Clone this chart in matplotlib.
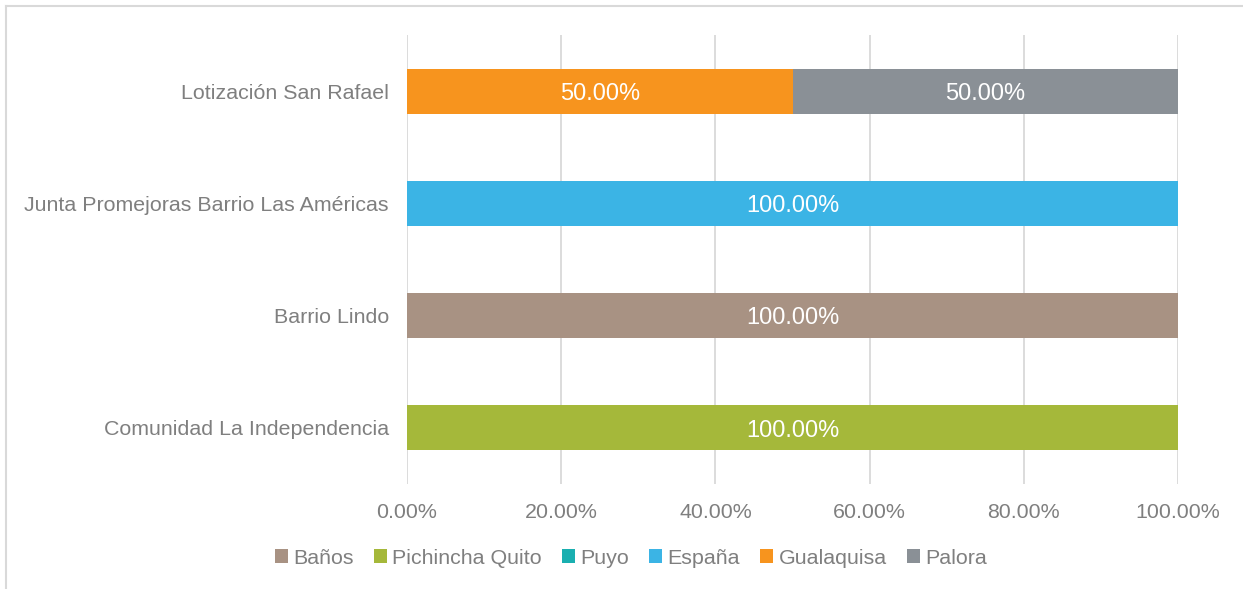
import matplotlib
matplotlib.use("Agg")
import matplotlib.pyplot as plt
from matplotlib.lines import Line2D
from matplotlib.patches import Patch

categories = ["Comunidad La Independencia", "Barrio Lindo",
              "Junta Promejoras Barrio Las Américas", "Lotización San Rafael"]
series_names = ["Baños", "Pichincha Quito", "Puyo", "España", "Gualaquisa", "Palora"]
banos = [0.0, 1.0, 0.0, 0.0]
pichincha_quito = [1.0, 0.0, 0.0, 0.0]
puyo = [0.0, 0.0, 0.0, 0.0]
espana = [0.0, 0.0, 1.0, 0.0]
gualaquisa = [0.0, 0.0, 0.0, 0.5]
palora = [0.0, 0.0, 0.0, 0.5]
series_values = [banos, pichincha_quito, puyo, espana, gualaquisa, palora]
colors = ["#A89283", "#A5B83A", "#1AAFB0", "#3BB4E5", "#F7941E", "#8A9096"]
xticks = [0, 0.2, 0.4, 0.6, 0.8, 1.0]
xtick_labels = ["0.00%", "20.00%", "40.00%", "60.00%", "80.00%", "100.00%"]

plt.rcParams['font.family'] = ['Liberation Sans', 'DejaVu Sans']
text_color = "#7F7F7F"

fig = plt.figure(figsize=(12.43, 5.89), dpi=100)
ax = fig.add_axes([407/1243, 1-484/589, (1178-407)/1243, (484-35)/589])

y = list(range(len(categories)))
left = [0.0]*len(categories)
for name, vals, col in zip(series_names, series_values, colors):
    ax.barh(y, vals, left=left, height=0.4, color=col, label=name, zorder=3)
    for yi, v, l in zip(y, vals, left):
        if v > 0:
            ax.text(l + v/2, yi - 0.025, f"{v*100:.2f}%", ha="center", va="center",
                    color="white", fontsize=17, zorder=4)
    left = [a + b for a, b in zip(left, vals)]

ax.set_xlim(0, 1.0)
ax.set_ylim(-0.5, 3.5)
ax.set_xticks(xticks)
ax.set_xticklabels(xtick_labels)
ax.set_yticks(y)
ax.set_yticklabels(categories)
ax.tick_params(axis="both", length=0, labelcolor=text_color, labelsize=15.4)
ax.tick_params(axis="x", pad=14)
ax.tick_params(axis="y", pad=13)
ax.grid(axis="x", color="#D9D9D9", linewidth=1.3, zorder=0)
for s in ax.spines.values():
    s.set_visible(False)

handles = [Patch(facecolor=c, edgecolor="none") for c in colors]
fig.legend(handles, series_names, loc="center", bbox_to_anchor=(631/1243, 1-558/589),
           ncol=6, frameon=False, fontsize=15.4, labelcolor=text_color,
           handlelength=0.6, handleheight=0.6, handletextpad=0.25, columnspacing=0.95)

fig.add_artist(Line2D([6/1243, 6/1243], [0, 1-6/589], transform=fig.transFigure,
                      color="#D9D9D9", linewidth=1.5))
fig.add_artist(Line2D([6/1243, 1], [1-6/589, 1-6/589], transform=fig.transFigure,
                      color="#D9D9D9", linewidth=1.5))

fig.savefig("out.png", dpi=100)
